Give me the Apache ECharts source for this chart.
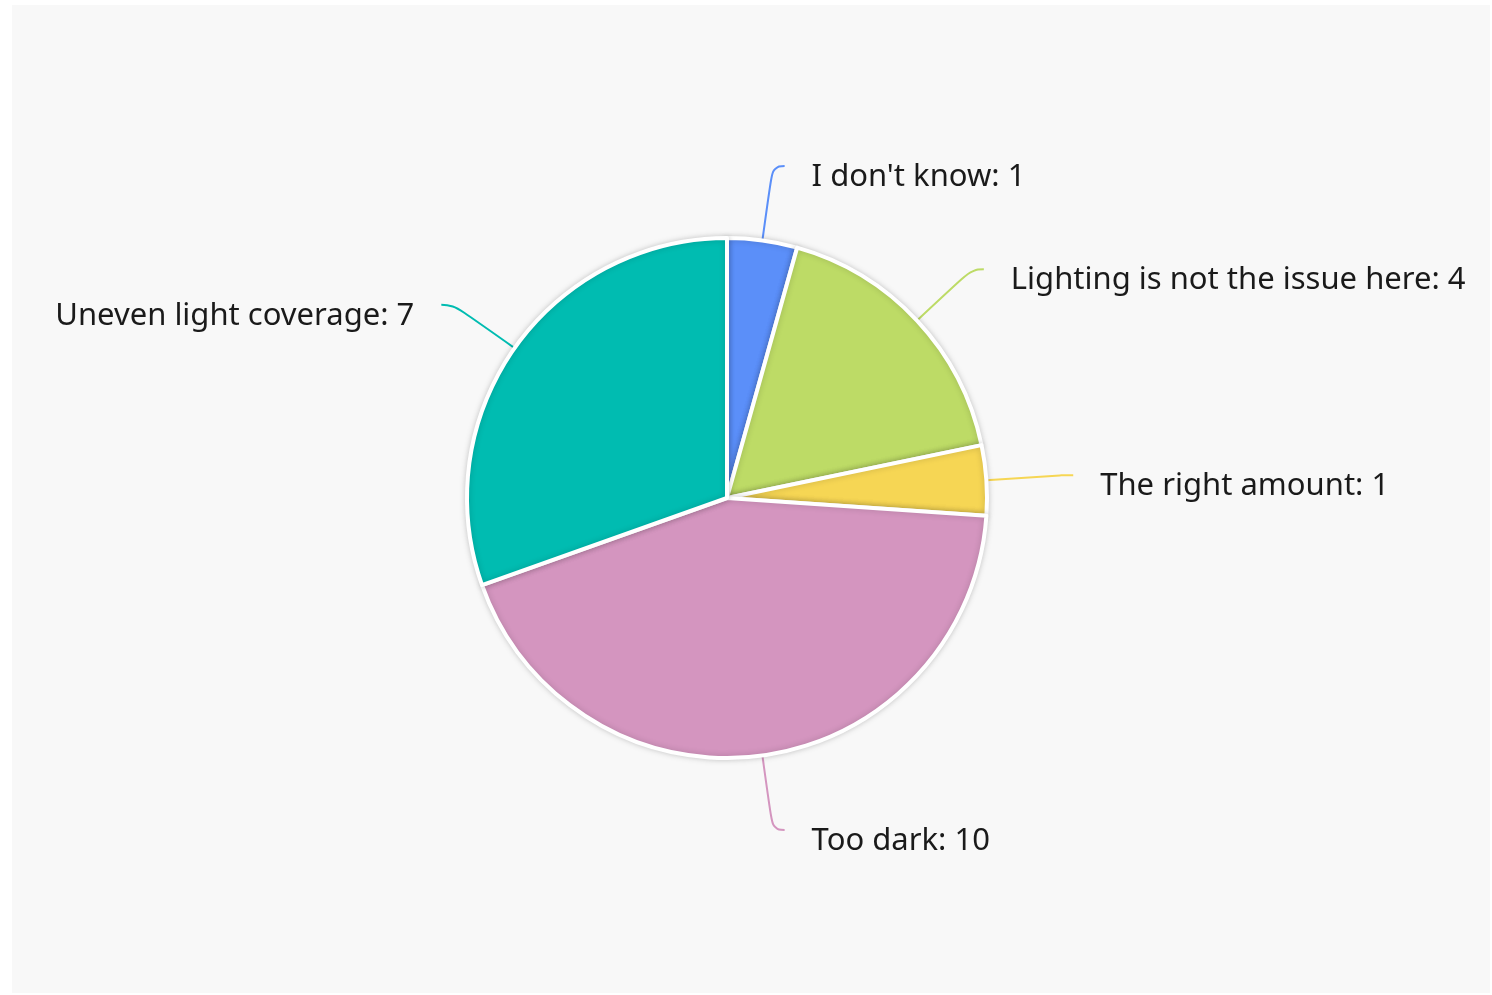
<!DOCTYPE html>
<html><head><meta charset="utf-8">
<script src="https://cdn.jsdelivr.net/npm/echarts@6/dist/echarts.min.js"></script>
<style>
html,body{margin:0;padding:0;background:#fff;}
#panel{position:absolute;left:12px;top:5px;width:1478px;height:988px;background:#f8f8f8;}
#chart{position:absolute;left:0;top:0;width:1492px;height:995px;}
</style></head>
<body>
<div id="panel"></div>
<div id="chart"></div>
<script>
const categories = ["I don't know", "Lighting is not the issue here", "The right amount", "Too dark", "Uneven light coverage"];
const values = [1, 4, 1, 10, 7];
const colors = ['#5b8ff9', '#bddb66', '#f6d654', '#d495bf', '#00bcb1'];

const chart = echarts.init(document.getElementById('chart'));
chart.setOption({
  backgroundColor: 'transparent',
  animation: false,
  series: [{
    type: 'pie',
    center: [727, 498],
    radius: [0, 260],
    startAngle: 90,
    clockwise: true,
    avoidLabelOverlap: false,
    data: categories.map((c, i) => ({ name: c, value: values[i], itemStyle: { color: colors[i] } })),
    itemStyle: {
      borderColor: '#ffffff',
      borderWidth: 4,
      shadowBlur: 6,
      shadowColor: 'rgba(0,0,0,0.18)'
    },
    label: {
      show: true,
      formatter: function (p) { return '{s| }\n{t|' + p.name + ': ' + p.value + '}'; },
      fontFamily: 'Noto Sans',
      fontSize: 31,
      color: '#1a1a1a',
      padding: [0, 22, 0, 22],
      rich: {
        s: { fontSize: 1, lineHeight: 22 },
        t: { fontFamily: 'Noto Sans', fontSize: 31, lineHeight: 40, color: '#1a1a1a' }
      }
    },
    labelLine: {
      show: true,
      length: 75,
      length2: 12,
      smooth: 0.5,
      lineStyle: { width: 2 }
    }
  }]
});
</script>
</body></html>
